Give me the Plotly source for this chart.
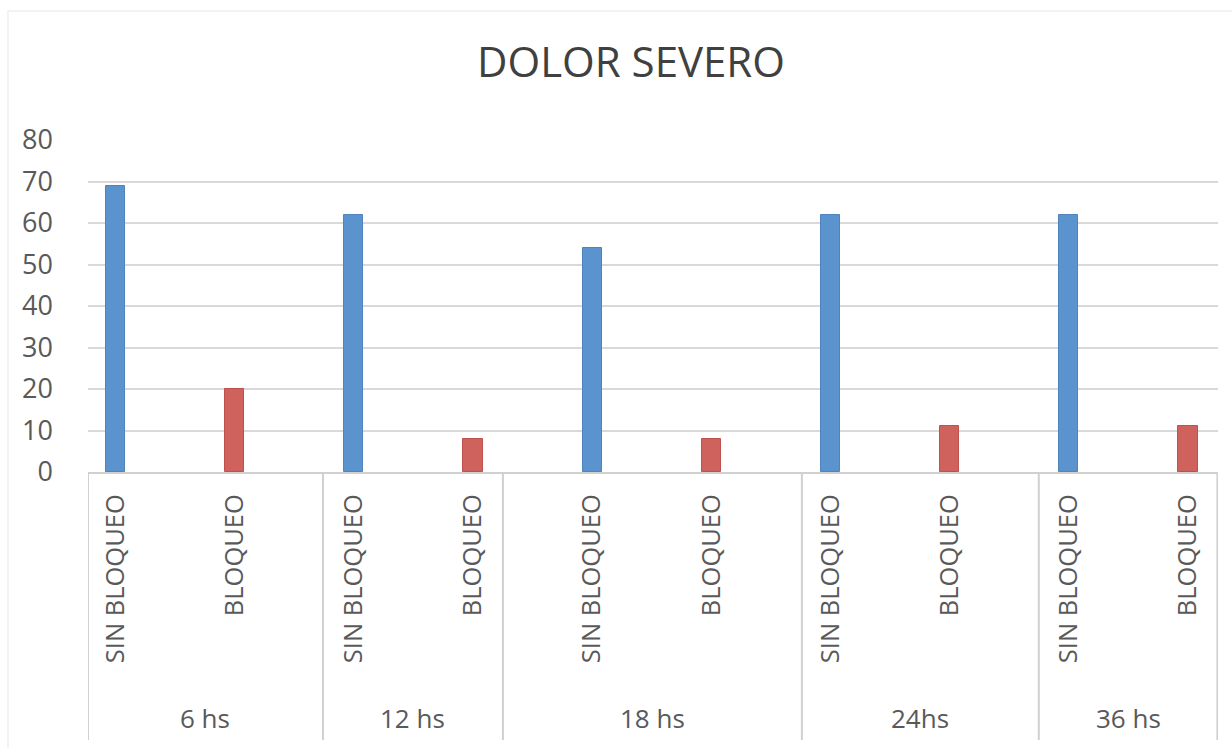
import plotly.graph_objects as go

# Time points and the two groups measured at each one
times = ["6 hs", "12 hs", "18 hs", "24hs", "36 hs"]
groups = ["SIN BLOQUEO", "BLOQUEO"]
sin_bloqueo = [69, 62, 54, 62, 62]
bloqueo = [20, 8, 8, 11, 11]

# Canvas / plot-area geometry (pixels)
W, H = 1232, 748
L, R, T, B = 88, 14, 140, 276
PW, PH = W - L - R, H - T - B

def px_x(px):
    return (px - L) / PW

def px_y(py):
    return (H - B - py) / PH

BLUE, BLUE_EDGE = "#5B93CF", "#4F83BE"
RED, RED_EDGE = "#CF625D", "#C0504D"
TEXT = "#595959"
GRID = "#D9D9D9"
FONT = "Open Sans"

n = len(times)
x_sin = [2 * i for i in range(n)]
x_blo = [2 * i + 1 for i in range(n)]
tickvals = list(range(2 * n))
ticktext = [groups[k % 2] for k in tickvals]

# x-range so that the first and last bars sit where the categories are
x_range = [-0.231, 2 * n - 1 + 0.252]
# separators of the time-point label row (data units)
group_edges = [x_range[0], 1.741, 3.251, 5.760, 7.748, x_range[1] - 0.005]

fig = go.Figure()
fig.add_trace(go.Bar(x=x_sin, y=sin_bloqueo, name=groups[0], width=0.16,
                     marker=dict(color=BLUE, line=dict(color=BLUE_EDGE, width=1))))
fig.add_trace(go.Bar(x=x_blo, y=bloqueo, name=groups[1], width=0.16,
                     marker=dict(color=RED, line=dict(color=RED_EDGE, width=1))))

fig.update_layout(
    width=W, height=H,
    margin=dict(l=L, r=R, t=T, b=B, pad=0),
    paper_bgcolor="white", plot_bgcolor="white",
    showlegend=False,
    font=dict(family=FONT, color=TEXT, size=26),
    title=dict(text="DOLOR SEVERO", font=dict(family=FONT, size=42, color="#404040"),
               x=px_x(631), xref="paper", xanchor="center",
               y=1 - 62 / H, yref="container", yanchor="middle"),
    bargap=0,
)

fig.update_xaxes(range=x_range, tickvals=tickvals, ticktext=ticktext,
                 tickangle=-90, tickfont=dict(size=25.5, color=TEXT),
                 showgrid=False, zeroline=False, ticks="",
                 showline=True, linecolor="#D0D0D0", linewidth=2,
                 ticklabelstandoff=10)
fig.update_yaxes(range=[0, 80], dtick=10, showgrid=True, gridcolor=GRID, gridwidth=2,
                 zeroline=False, showline=False, ticks="",
                 tickfont=dict(size=27, color=TEXT), ticklabelstandoff=34)

# Separator lines below the axis between time points
for e in group_edges:
    fig.add_shape(type="line", xref="x", yref="paper", x0=e, x1=e,
                  y0=0, y1=px_y(740), line=dict(color="#D0D0D0", width=2))

# Time-point labels centred between separators
for i, t in enumerate(times):
    mid = (group_edges[i] + group_edges[i + 1]) / 2
    fig.add_annotation(x=mid, xref="x", y=px_y(718), yref="paper", text=t,
                       showarrow=False, xanchor="center", yanchor="middle",
                       font=dict(size=26, color=TEXT))

# Faint chart border
fig.add_shape(type="rect", xref="paper", yref="paper",
              x0=px_x(8), x1=px_x(W + 20), y0=px_y(11), y1=px_y(H + 20),
              line=dict(color="#EFEFEF", width=1.5), layer="below")

fig.write_html("out.html")
